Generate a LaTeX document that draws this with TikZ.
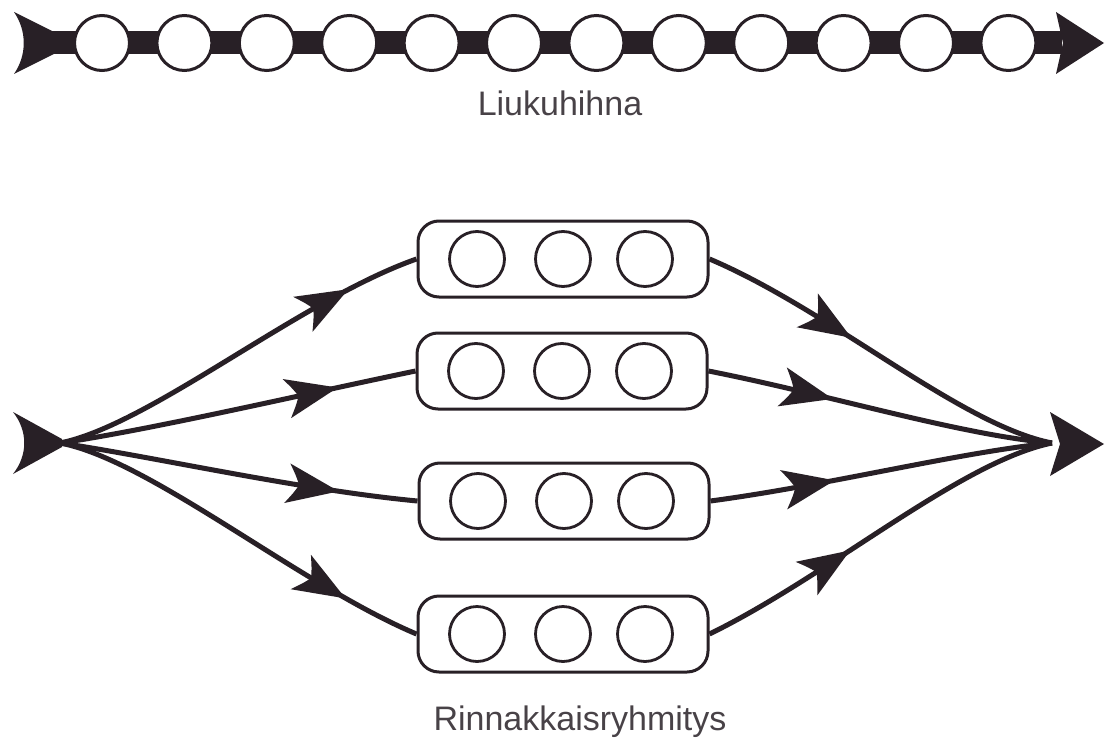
\documentclass[tikz,border=0pt]{standalone}
\usepackage{fontspec}
\setmainfont{Liberation Sans}
\usetikzlibrary{decorations.markings}
\definecolor{ink}{RGB}{40,32,38}
\begin{document}
\begin{tikzpicture}[x=1pt,y=-1pt,
  bead/.style={circle,draw=ink,line width=3pt,fill=white,minimum size=55pt,inner sep=0pt},
  cell/.style={circle,draw=ink,line width=2.8pt,fill=white,minimum size=55pt,inner sep=0pt},
  group/.style={rectangle,rounded corners=21pt,draw=ink,line width=3pt,fill=white,
    minimum width=290pt,minimum height=76pt,inner sep=0pt},
  flow/.style={draw=ink,line width=5pt,postaction={decorate},
    decoration={markings,mark=at position #1 with {
      \fill[ink] (22pt,0pt) -- (-30pt,20pt) .. controls (-22pt,8pt) .. (-18pt,0pt)
        .. controls (-22pt,-8pt) .. (-30pt,-20pt) -- cycle;}}},
  caption/.style={font=\fontsize{34}{40}\selectfont,text=ink!85}
]
\useasboundingbox[fill=white] (0,0) rectangle (1105,749);

% --- conveyor belt ---
\coordinate (beltL) at (48,43);
\coordinate (beltR) at (1062,43);
\draw[ink,line width=23pt] (beltL) -- (beltR);
\fill[ink] (14,12) -- (54,32) -- (54,54) -- (14,74) .. controls (27,55) and (27,31) .. cycle;
\fill[ink] (1056,12) -- (1104,43) -- (1056,74) -- (1063,43) -- cycle;
\foreach \i in {0,...,11}
  \node[bead] (c\i) at ({102+82.4*\i},43) {};
\node[caption] (belt) at (560,103) {Liukuhihna};

% --- parallel groups ---
\node[group] (g1) at (563,259) {};
\node[group] (g2) at (562,371) {};
\node[group] (g3) at (564,501) {};
\node[group] (g4) at (563,634) {};
\foreach \g in {1,2,3,4}{
  \node[cell] (g\g a) at ([xshift=-86pt]g\g.center) {};
  \node[cell] (g\g b) at (g\g.center) {};
  \node[cell] (g\g c) at ([xshift=82pt]g\g.center) {};
}

\coordinate (hubL) at (60,443);
\coordinate (hubR) at (1052,443);
\fill[ink] (13,412) -- (62,439) -- (62,447) -- (13,474) .. controls (28,455) and (28,431) .. cycle;
\fill[ink] (1050,412) -- (1104,444) -- (1050,476) -- (1060,444) -- cycle;

\draw[flow=0.76] (hubL) .. controls (150,425) and (300,300) .. (g1.west);
\draw[flow=0.72] (hubL) .. controls (150,430) and (300,395) .. (g2.west);
\draw[flow=0.72] (hubL) .. controls (150,456) and (300,490) .. (g3.west);
\draw[flow=0.75] (hubL) .. controls (150,460) and (300,585) .. (g4.west);

\draw[flow=0.36] (g1.east) .. controls (830,310) and (960,425) .. (hubR);
\draw[flow=0.30] (g2.east) .. controls (830,395) and (960,435) .. (hubR);
\draw[flow=0.30] (g3.east) .. controls (830,485) and (960,452) .. (hubR);
\draw[flow=0.36] (g4.east) .. controls (830,575) and (960,462) .. (hubR);

\node[caption] (par) at (580,722) {Rinnakkaisryhmitys};
\end{tikzpicture}
\end{document}
